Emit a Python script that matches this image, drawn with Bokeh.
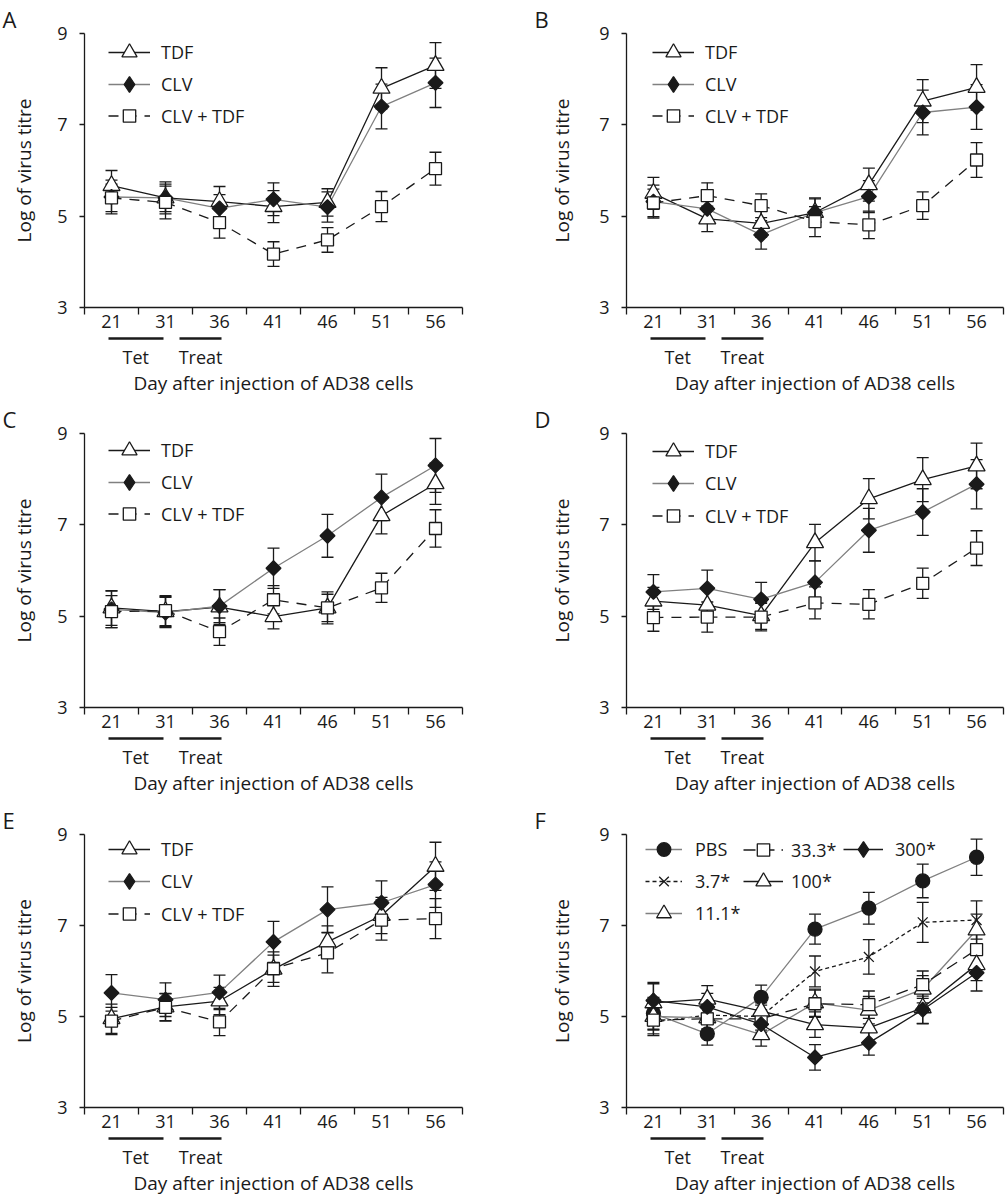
import math
from bokeh.plotting import figure
from bokeh.models import (ColumnDataSource, Whisker, TeeHead, Legend, LegendItem,
                          FixedTicker, LinearAxis, Range1d)
from bokeh.layouts import column, row
from bokeh.embed import file_html
from bokeh.resources import INLINE

# ---------------- data ----------------
DAYS = ["21", "31", "36", "41", "46", "51", "56"]
PHASES = ["Tet", "Treat"]
Y_TICKS = [3, 5, 7, 9]
X_TITLE = "Day after injection of AD38 cells"
Y_TITLE = "Log of virus titre"
PANEL_LETTERS = ["A", "B", "C", "D", "E", "F"]
TRIO = ["TDF", "CLV", "CLV + TDF"]
DOSES = ["PBS", "3.7*", "11.1*", "33.3*", "100*", "300*"]

A_TDF = [5.67, 5.40, 5.32, 5.21, 5.30, 7.80, 8.30]
A_TDF_SE = [0.33, 0.35, 0.33, 0.35, 0.30, 0.45, 0.50]
A_CLV = [5.42, 5.40, 5.17, 5.37, 5.20, 7.40, 7.92]
A_CLV_SE = [0.37, 0.30, 0.30, 0.36, 0.33, 0.49, 0.54]
A_COMBO = [5.40, 5.30, 4.86, 4.17, 4.48, 5.21, 6.04]
A_COMBO_SE = [0.30, 0.36, 0.34, 0.27, 0.27, 0.33, 0.36]

B_TDF = [5.50, 4.94, 4.84, 5.08, 5.69, 7.52, 7.82]
B_TDF_SE = [0.35, 0.28, 0.30, 0.32, 0.36, 0.47, 0.50]
B_CLV = [5.32, 5.16, 4.59, 5.08, 5.43, 7.27, 7.39]
B_CLV_SE = [0.36, 0.30, 0.31, 0.30, 0.35, 0.49, 0.49]
B_COMBO = [5.29, 5.45, 5.23, 4.88, 4.81, 5.23, 6.23]
B_COMBO_SE = [0.30, 0.28, 0.26, 0.33, 0.30, 0.30, 0.38]

C_TDF = [5.18, 5.10, 5.20, 4.99, 5.18, 7.20, 7.90]
C_TDF_SE = [0.38, 0.33, 0.38, 0.27, 0.35, 0.40, 0.45]
C_CLV = [5.15, 5.08, 5.22, 6.05, 6.76, 7.60, 8.30]
C_CLV_SE = [0.40, 0.33, 0.36, 0.44, 0.47, 0.51, 0.59]
C_COMBO = [5.10, 5.12, 4.66, 5.36, 5.18, 5.62, 6.92]
C_COMBO_SE = [0.35, 0.33, 0.30, 0.31, 0.30, 0.32, 0.41]

D_TDF = [5.33, 5.24, 5.01, 6.61, 7.57, 7.99, 8.29]
D_TDF_SE = [0.30, 0.35, 0.30, 0.40, 0.44, 0.48, 0.50]
D_CLV = [5.53, 5.61, 5.37, 5.74, 6.88, 7.28, 7.89]
D_CLV_SE = [0.38, 0.40, 0.37, 0.47, 0.48, 0.51, 0.54]
D_COMBO = [4.97, 4.98, 4.98, 5.29, 5.26, 5.72, 6.49]
D_COMBO_SE = [0.30, 0.33, 0.30, 0.35, 0.32, 0.33, 0.38]

E_TDF = [4.95, 5.21, 5.34, 6.04, 6.64, 7.22, 8.30]
E_TDF_SE = [0.32, 0.30, 0.30, 0.38, 0.35, 0.40, 0.53]
E_CLV = [5.52, 5.37, 5.53, 6.64, 7.35, 7.50, 7.90]
E_CLV_SE = [0.40, 0.37, 0.38, 0.45, 0.50, 0.48, 0.50]
E_COMBO = [4.90, 5.20, 4.88, 6.05, 6.40, 7.12, 7.15]
E_COMBO_SE = [0.30, 0.30, 0.30, 0.30, 0.44, 0.44, 0.44]

F_PBS = [5.07, 4.62, 5.42, 6.92, 7.38, 7.98, 8.50]
F_PBS_SE = [0.35, 0.25, 0.27, 0.33, 0.35, 0.37, 0.40]
F_3_7 = [4.88, 5.03, 5.00, 5.99, 6.31, 7.07, 7.12]
F_3_7_SE = [0.30, 0.30, 0.30, 0.34, 0.38, 0.44, 0.42]
F_11_1 = [5.00, 4.97, 4.60, 5.30, 5.14, 5.60, 6.90]
F_11_1_SE = [0.30, 0.30, 0.25, 0.30, 0.30, 0.30, 0.35]
F_33_3 = [4.92, 4.95, 4.95, 5.28, 5.26, 5.70, 6.47]
F_33_3_SE = [0.30, 0.30, 0.30, 0.30, 0.30, 0.30, 0.35]
F_100 = [5.30, 5.38, 5.12, 4.82, 4.75, 5.19, 6.14]
F_100_SE = [0.42, 0.30, 0.30, 0.28, 0.30, 0.35, 0.35]
F_300 = [5.35, 5.21, 4.83, 4.10, 4.42, 5.15, 5.96]
F_300_SE = [0.40, 0.30, 0.30, 0.28, 0.27, 0.30, 0.40]

# ---------------- styles / layout ----------------
FONT = "Open Sans"
INK = "#1a1a1a"
GREY = "#808080"
Y_MIN, Y_MAX = 3, 9

STYLE = {
    "TDF": dict(marker="triangle", size=17, fill="white", line=INK, dash="solid", angle=0.0, leg="triangle"),
    "CLV": dict(marker="square", size=10.5, fill=INK, line=GREY, dash="solid", angle=math.pi / 4, leg="diamond"),
    "CLV + TDF": dict(marker="square", size=12, fill="white", line=INK, dash="10 8", angle=0.0, leg="square"),
    "PBS": dict(marker="circle", size=14, fill=INK, line=GREY, dash="solid", angle=0.0, leg="circle"),
    "3.7*": dict(marker="x", size=14, fill=None, line=INK, dash="4 3", angle=0.0, leg="x"),
    "11.1*": dict(marker="triangle", size=17, fill="white", line=GREY, dash="solid", angle=0.0, leg="triangle"),
    "33.3*": dict(marker="square", size=12, fill="white", line=INK, dash="12 7", angle=0.0, leg="square"),
    "100*": dict(marker="triangle", size=17, fill="white", line=INK, dash="solid", angle=0.0, leg="triangle"),
    "300*": dict(marker="square", size=10.5, fill=INK, line=INK, dash="solid", angle=math.pi / 4, leg="diamond"),
}
# legend glyph box height per marker (the legend marker size is 0.4 of it)
LEG_BOX = {"triangle": 38, "square": 31, "circle": 34, "diamond": 40, "x": 34}

COLS = [dict(width=500, left=84, right=38, ytitle=17, letter=-82, legx=24),
        dict(width=508, left=126, right=5, ytitle=21, letter=-92, legx=26)]
ROWS = [dict(height=400, top=33, bottom=93), dict(height=400, top=33, bottom=93),
        dict(height=400, top=34, bottom=93)]
PHASE_SPANS = [(0.44, 1.46), (1.76, 2.54)]
ROW_PITCH = 32


def style_text_axis(ax, size="18px"):
    ax.major_label_text_font = FONT
    ax.major_label_text_font_size = size
    ax.major_label_text_color = INK
    ax.axis_label_text_font = FONT
    ax.axis_label_text_font_size = "19px"
    ax.axis_label_text_font_style = "normal"
    ax.axis_label_text_color = INK


def bare_axis(ax):
    ax.axis_line_color = None
    ax.major_tick_line_color = None
    ax.minor_tick_line_color = None
    ax.major_tick_out = 0
    ax.major_tick_in = 0
    ax.minor_tick_out = 0
    ax.minor_tick_in = 0


def add_item_legend(p, item, marker, x, centre, frame_h, glyph_w, standoff):
    gh = LEG_BOX[marker]
    y = frame_h - centre - gh / 2
    leg = Legend(items=[item], location=(x, round(y)), glyph_width=glyph_w,
                 glyph_height=gh, label_height=20, label_standoff=standoff,
                 spacing=0, padding=0, margin=0)
    leg.label_text_font = FONT
    leg.label_text_font_size = "18px"
    leg.label_text_color = INK
    leg.background_fill_alpha = 0
    leg.border_line_color = None
    p.add_layout(leg)


def make_panel(idx, names, values, errs, legend_centre, legend_cols=None):
    col = COLS[idx % 2]
    rw = ROWS[idx // 2]
    frame_h = rw["height"] - rw["top"] - rw["bottom"]
    n = len(DAYS)
    xs = [i + 0.5 for i in range(n)]
    bounds = list(range(n + 1))

    p = figure(width=col["width"], height=rw["height"], x_range=Range1d(0, n),
               y_range=Range1d(Y_MIN, Y_MAX), output_backend="svg", toolbar_location=None,
               min_border_left=col["left"], min_border_right=col["right"],
               min_border_top=rw["top"], min_border_bottom=rw["bottom"])
    p.outline_line_color = None
    p.grid.visible = False
    p.background_fill_color = "white"
    p.border_fill_color = "white"

    # panel letter
    p.title.text = PANEL_LETTERS[idx]
    p.title.align = "left"
    p.title.offset = col["letter"]
    p.title.standoff = 0
    p.title.text_font = FONT
    p.title.text_font_size = "22px"
    p.title.text_font_style = "normal"
    p.title.text_color = INK

    # x axis line with ticks at category boundaries
    xa = p.xaxis[0]
    xa.ticker = FixedTicker(ticks=bounds, minor_ticks=[])
    xa.major_label_overrides = {b: "" for b in bounds}
    xa.major_label_text_font_size = "1px"
    xa.major_label_standoff = 0
    xa.axis_line_color = INK
    xa.axis_line_width = 1.3
    xa.major_tick_line_color = INK
    xa.major_tick_line_width = 1.3
    xa.major_tick_out = 7
    xa.major_tick_in = 0
    xa.minor_tick_line_color = None

    # day labels at category centres
    days_ax = LinearAxis(ticker=FixedTicker(ticks=xs, minor_ticks=[]))
    style_text_axis(days_ax)
    bare_axis(days_ax)
    days_ax.major_label_overrides = {x: d for x, d in zip(xs, DAYS)}
    days_ax.major_label_standoff = 0
    days_ax.axis_label = " "
    days_ax.axis_label_text_font_size = "4px"
    days_ax.axis_label_standoff = 0
    p.add_layout(days_ax, "below")

    # bars for the Tet / Treat periods
    for (x0, x1) in PHASE_SPANS:
        bar = LinearAxis(ticker=FixedTicker(ticks=[], minor_ticks=[]), bounds=(x0, x1))
        bare_axis(bar)
        bar.axis_line_color = INK
        bar.axis_line_width = 2.6
        bar.major_label_standoff = 0
        bar.major_label_text_font_size = "1px"
        p.add_layout(bar, "below")

    # Tet / Treat words and the x title
    centres = [(a + b) / 2 for a, b in PHASE_SPANS]
    lab = LinearAxis(ticker=FixedTicker(ticks=centres, minor_ticks=[]))
    style_text_axis(lab)
    bare_axis(lab)
    lab.major_label_overrides = {c: t for c, t in zip(centres, PHASES)}
    lab.major_label_standoff = 6
    lab.axis_label = X_TITLE
    lab.axis_label_standoff = -2
    p.add_layout(lab, "below")

    ya = p.yaxis[0]
    style_text_axis(ya)
    ya.axis_line_color = INK
    ya.axis_line_width = 1.3
    ya.ticker = FixedTicker(ticks=Y_TICKS, minor_ticks=[])
    ya.major_tick_line_color = INK
    ya.major_tick_line_width = 1.3
    ya.major_tick_out = 5
    ya.major_tick_in = 0
    ya.minor_tick_line_color = None
    ya.major_label_standoff = 12
    ya.axis_label = Y_TITLE
    ya.axis_label_standoff = col["ytitle"]

    lines = {}
    for nm, v in zip(names, values):
        st = STYLE[nm]
        lines[nm] = p.line(xs, v, line_color=st["line"], line_width=1.3, line_dash=st["dash"])

    for nm, v, e in zip(names, values, errs):
        src = ColumnDataSource(dict(x=xs, hi=[a + b for a, b in zip(v, e)],
                                    lo=[a - b for a, b in zip(v, e)]))
        w = Whisker(source=src, base="x", upper="hi", lower="lo", line_color=INK, line_width=1.3,
                    upper_head=TeeHead(size=12, line_color=INK, line_width=1.3),
                    lower_head=TeeHead(size=12, line_color=INK, line_width=1.3))
        p.add_layout(w)

    items = {}
    for nm, v in zip(names, values):
        st = STYLE[nm]
        kw = dict(marker=st["marker"], size=st["size"], line_color=INK, line_width=1.3,
                  angle=st["angle"])
        if st["fill"] is not None:
            kw["fill_color"] = st["fill"]
        mark = p.scatter(xs, v, **kw)
        if st["leg"] != st["marker"]:
            pk = dict(marker=st["leg"], line_color=INK, line_width=1.3)
            if st["fill"] is not None:
                pk["fill_color"] = st["fill"]
            proxy = p.scatter(x=[math.nan], y=[math.nan], **pk)
            items[nm] = LegendItem(label=nm, renderers=[lines[nm], proxy])
        else:
            items[nm] = LegendItem(label=nm, renderers=[lines[nm], mark])

    if legend_cols is None:
        legend_cols = [(names, col["legx"], 42, 11)]
    for group, lx, gw, so in legend_cols:
        for k, nm in enumerate(group):
            add_item_legend(p, items[nm], STYLE[nm]["leg"], lx, legend_centre + k * ROW_PITCH,
                            frame_h, gw, so)
    return p


F_LEGEND_COLUMNS = [(["PBS", "3.7*", "11.1*"], 19, 37, 13),
                    (["33.3*", "100*"], 117, 40, 8),
                    (["300*"], 217, 40, 12)]

pA = make_panel(0, TRIO, [A_TDF, A_CLV, A_COMBO], [A_TDF_SE, A_CLV_SE, A_COMBO_SE], 19)
pB = make_panel(1, TRIO, [B_TDF, B_CLV, B_COMBO], [B_TDF_SE, B_CLV_SE, B_COMBO_SE], 19)
pC = make_panel(2, TRIO, [C_TDF, C_CLV, C_COMBO], [C_TDF_SE, C_CLV_SE, C_COMBO_SE], 17)
pD = make_panel(3, TRIO, [D_TDF, D_CLV, D_COMBO], [D_TDF_SE, D_CLV_SE, D_COMBO_SE], 18)
pE = make_panel(4, TRIO, [E_TDF, E_CLV, E_COMBO], [E_TDF_SE, E_CLV_SE, E_COMBO_SE], 15)
pF = make_panel(5, DOSES, [F_PBS, F_3_7, F_11_1, F_33_3, F_100, F_300],
                [F_PBS_SE, F_3_7_SE, F_11_1_SE, F_33_3_SE, F_100_SE, F_300_SE], 15,
                legend_cols=F_LEGEND_COLUMNS)

layout = column(row(pA, pB), row(pC, pD), row(pE, pF))
open("out.html", "w").write(file_html(layout, INLINE))
